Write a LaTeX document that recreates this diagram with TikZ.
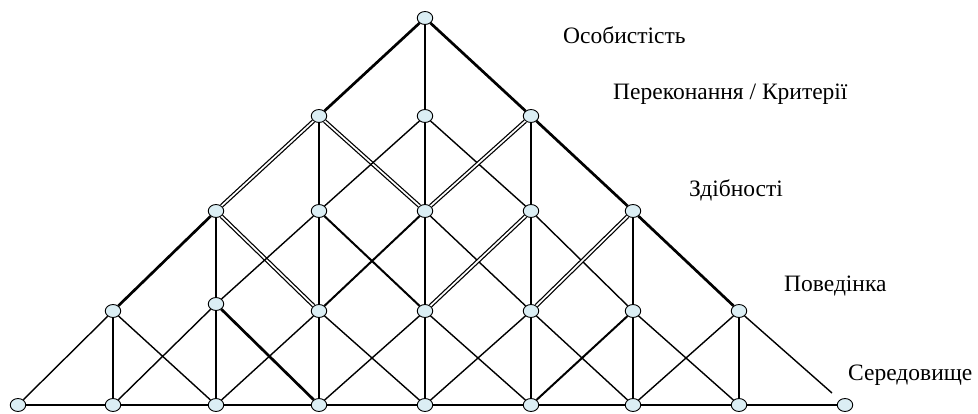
\documentclass[tikz,border=0pt]{standalone}
\usepackage{fontspec}
\setmainfont{Liberation Serif}
\usetikzlibrary{shapes.geometric}
\definecolor{nodefill}{RGB}{219,238,244}
\begin{document}
\begin{tikzpicture}[x=1pt,y=-1pt,
  pt/.style={ellipse,draw=black,line width=0.9pt,fill=nodefill,minimum width=15.5pt,minimum height=13pt,inner sep=0pt},
  ln/.style={line width=1.4pt},
  md/.style={line width=2pt},
  hv/.style={line width=2.7pt},
  dbl/.style={double=white,line width=1.25pt,double distance=1.7pt},
  lab/.style={anchor=base west,inner sep=0pt,font=\fontsize{23.5}{27}\selectfont}]
\useasboundingbox (0,0) rectangle (978,414);
% nodes
\node[pt] (n40) at (425,18) {};
\node[pt] (n31) at (319,116) {};
\node[pt] (n41) at (425,116) {};
\node[pt] (n51) at (531,116) {};
\node[pt] (n22) at (216,211) {};
\node[pt] (n32) at (319,211) {};
\node[pt] (n42) at (425,211) {};
\node[pt] (n52) at (531,211) {};
\node[pt] (n62) at (633,211) {};
\node[pt] (n13) at (113,311) {};
\node[pt] (n23) at (216,304) {};
\node[pt] (n33) at (319,311) {};
\node[pt] (n43) at (425,311) {};
\node[pt] (n53) at (531,311) {};
\node[pt] (n63) at (633,311) {};
\node[pt] (n73) at (739,311) {};
\node[pt] (n04) at (18,405) {};
\node[pt] (n14) at (113,405) {};
\node[pt] (n24) at (216,405) {};
\node[pt] (n34) at (319,405) {};
\node[pt] (n44) at (425,405) {};
\node[pt] (n54) at (531,405) {};
\node[pt] (n64) at (633,405) {};
\node[pt] (n74) at (739,405) {};
\node[pt] (n84) at (845,405) {};
\coordinate (rend) at (832,393);
% verticals
\draw[ln] (n13)--(n14);
\draw[ln] (n22)--(n23); \draw[ln] (n23)--(n24);
\draw[ln] (n31)--(n32); \draw[ln] (n32)--(n33); \draw[ln] (n33)--(n34);
\draw[ln] (n40)--(n41); \draw[ln] (n41)--(n42); \draw[ln] (n42)--(n43); \draw[ln] (n43)--(n44);
\draw[ln] (n51)--(n52); \draw[ln] (n52)--(n53); \draw[ln] (n53)--(n54);
\draw[ln] (n62)--(n63); \draw[ln] (n63)--(n64);
\draw[ln] (n73)--(n74);
% bottom
\draw[ln] (n04)--(n14);
\draw[md] (n14)--(n24); \draw[md] (n24)--(n34); \draw[md] (n34)--(n44);
\draw[md] (n44)--(n54); \draw[md] (n54)--(n64); \draw[md] (n64)--(n74);
\draw[ln] (n74)--(n84);
% down-right diagonals
\draw[hv] (n40)--(n51);
\draw[dbl] (n31)--(n42);
\draw[ln] (n41)--(n52);
\draw[hv] (n51)--(n62);
\draw[dbl] (n22)--(n33);
\draw[md] (n32)--(n43);
\draw[ln] (n42)--(n53);
\draw[ln] (n52)--(n63);
\draw[hv] (n62)--(n73);
\draw[ln] (n13)--(n24);
\draw[hv] (n23)--(n34);
\draw[ln] (n33)--(n44);
\draw[ln] (n43)--(n54);
\draw[ln] (n53)--(n64);
\draw[ln] (n63)--(n74);
\draw[ln] (n73)--(rend);
% down-left diagonals
\draw[hv] (n40)--(n31);
\draw[dbl] (n31)--(n22);
\draw[ln] (n41)--(n32);
\draw[dbl] (n51)--(n42);
\draw[hv] (n22)--(n13);
\draw[ln] (n32)--(n23);
\draw[md] (n42)--(n33);
\draw[dbl] (n52)--(n43);
\draw[dbl] (n62)--(n53);
\draw[ln] (n13)--(n04);
\draw[ln] (n23)--(n14);
\draw[ln] (n33)--(n24);
\draw[ln] (n43)--(n34);
\draw[ln] (n53)--(n44);
\draw[md] (n63)--(n54);
\draw[ln] (n73)--(n64);
% labels
\node[lab] (t1) at (563,44) {Особистість};
\node[lab] (t2) at (613,100) {Переконання / Критерії};
\node[lab] (t3) at (689,197) {Здібності};
\node[lab] (t4) at (784,292) {Поведінка};
\node[lab] (t5) at (848,381) {Середовище};
\end{tikzpicture}
\end{document}
